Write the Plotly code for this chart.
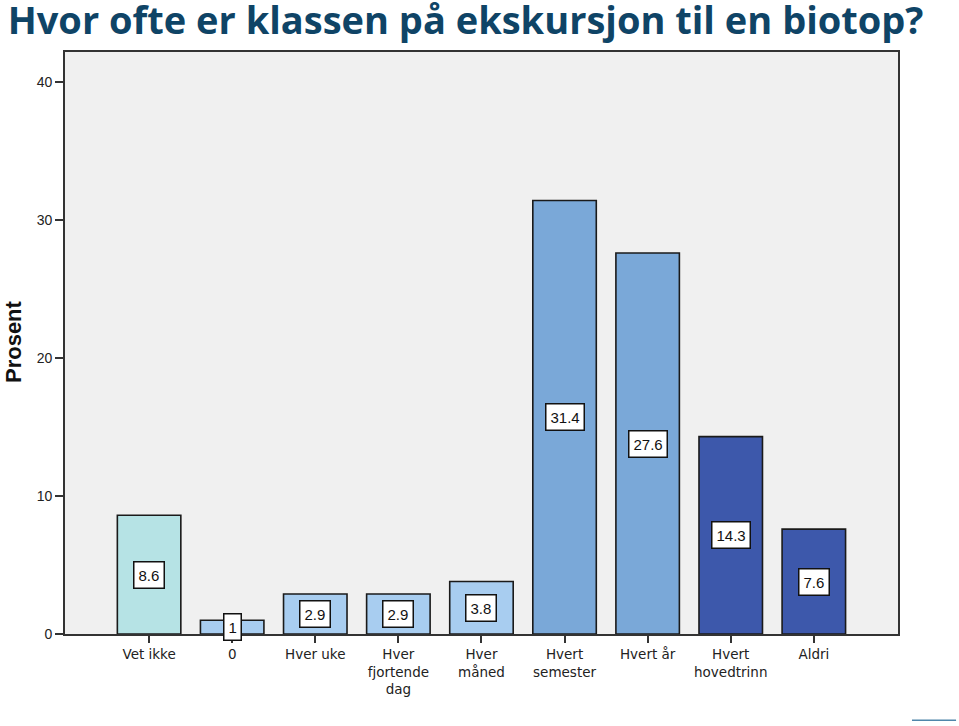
import plotly.graph_objects as go

categories = ["Vet ikke", "0", "Hver uke", "Hver<br>fjortende<br>dag", "Hver<br>måned",
              "Hvert<br>semester", "Hvert år", "Hvert<br>hovedtrinn", "Aldri"]
values = [8.6, 1, 2.9, 2.9, 3.8, 31.4, 27.6, 14.3, 7.6]
value_labels = ["8.6", "1", "2.9", "2.9", "3.8", "31.4", "27.6", "14.3", "7.6"]
colors = ["#b6e3e5", "#a8cdf0", "#a8cdf0", "#a8cdf0", "#a8cdf0",
          "#7aa8d8", "#7aa8d8", "#3d58ab", "#3d58ab"]
y_ticks = [0, 10, 20, 30, 40]

x_pos = list(range(len(categories)))

fig = go.Figure()
fig.add_trace(go.Bar(
    x=x_pos, y=values, width=0.764,
    marker=dict(color=colors, line=dict(color="#1a1a1a", width=1.6)),
    hoverinfo="skip", showlegend=False,
))

for xi, v, lab in zip(x_pos, values, value_labels):
    fig.add_annotation(
        x=xi, y=v / 2, text=lab, showarrow=False,
        font=dict(family="Liberation Sans, Arial", size=15, color="#111"),
        bgcolor="white", bordercolor="#111", borderwidth=1.5, borderpad=4,
    )

fig.add_annotation(
    xref="paper", yref="paper", x=-0.061, y=0.502, text="<b>Prosent</b>",
    textangle=-90, showarrow=False, xanchor="center", yanchor="middle",
    font=dict(family="Liberation Sans, Arial", size=22, color="#111"),
)

fig.add_shape(type="line", xref="paper", yref="paper",
              x0=1.0168, x1=1.0697, y0=-0.148, y1=-0.148,
              line=dict(color="#4f86aa", width=1.5))

fig.update_layout(
    width=959, height=726,
    margin=dict(l=65, r=61, t=52, b=92),
    paper_bgcolor="white", plot_bgcolor="#f0f0f0",
    title=dict(text="<b>Hvor ofte er klassen på ekskursjon til en biotop?</b>",
               x=0.008, xanchor="left", xref="container", y=0.990, yanchor="top", yref="container",
               pad=dict(t=0, l=0),
               font=dict(family="Open Sans, Lato", size=38, color="#0f4466")),
)
fig.update_xaxes(
    range=[-1.012, 9.013], tickmode="array", tickvals=x_pos, ticktext=categories,
    ticks="outside", ticklen=7, tickwidth=1.6, tickcolor="#333",
    showline=True, linecolor="#333", linewidth=1.6, mirror=True,
    showgrid=False, zeroline=False,
    tickfont=dict(family="DejaVu Sans, Arial", size=13.5, color="#222"),
)
fig.update_yaxes(
    range=[0, 42.16], tickmode="array", tickvals=y_ticks,
    ticks="outside", ticklen=8, tickwidth=1.6, tickcolor="#333",
    showline=True, linecolor="#333", linewidth=1.6, mirror=True,
    showgrid=False, zeroline=False,
    tickfont=dict(family="Liberation Sans, Arial", size=14, color="#222"),
)

fig.write_html("out.html", config={"displayModeBar": False},
               post_script="document.body.style.margin='0';document.body.style.overflow='hidden';")
